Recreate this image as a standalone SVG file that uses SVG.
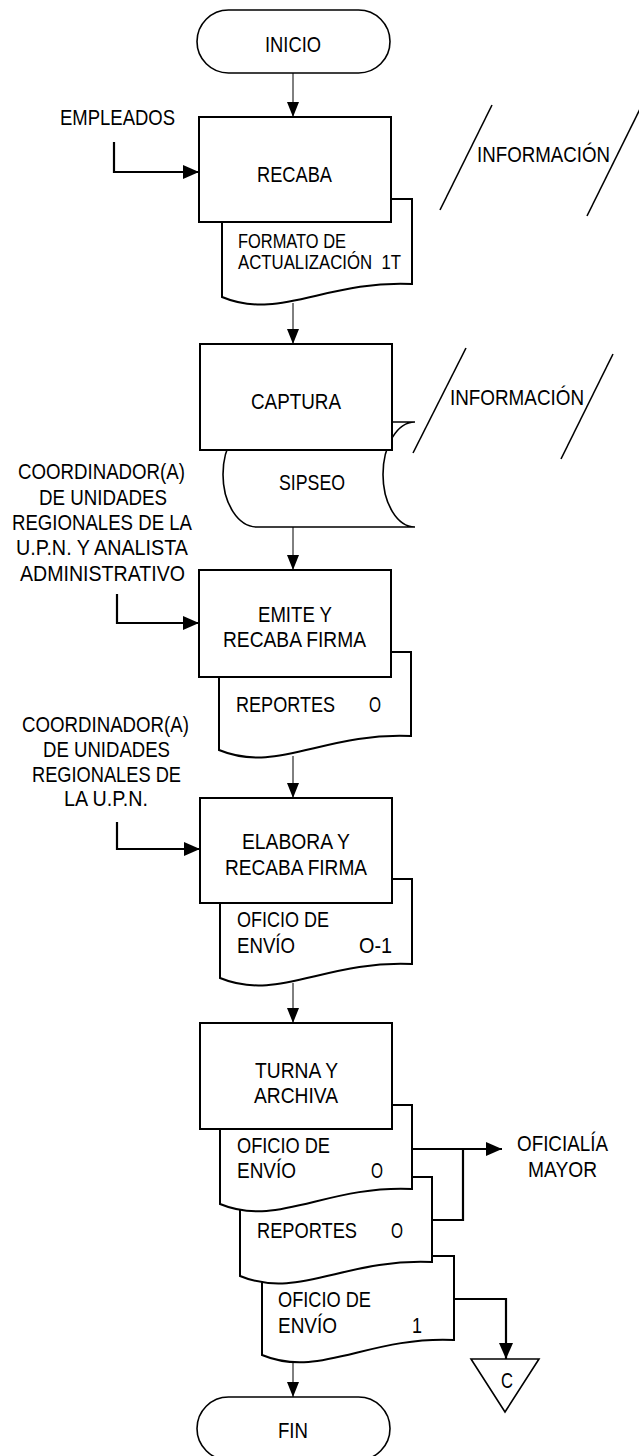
<svg xmlns="http://www.w3.org/2000/svg" width="639" height="1456" viewBox="0 0 639 1456">
<defs>
<marker id="ah" markerUnits="userSpaceOnUse" markerWidth="15" markerHeight="12" refX="15" refY="6" orient="auto"><path d="M0,0 L15,6 L0,12 Z" fill="#000"/></marker>
<marker id="ahb" markerUnits="userSpaceOnUse" markerWidth="16" markerHeight="14" refX="16" refY="7" orient="auto"><path d="M0,0 L16,7 L0,14 Z" fill="#000"/></marker>
<style>
text{font-family:"Liberation Sans",Arial,sans-serif;font-size:22px;fill:#000}
.sm{font-size:19.5px}
.pre{white-space:pre}
.term{fill:#fff;stroke:#000;stroke-width:1.6}
.box{fill:#fff;stroke:#000;stroke-width:2}
.doc{fill:#fff;stroke:#000;stroke-width:2}
.sto{fill:#fff;stroke:#000;stroke-width:1.6}
.io{fill:none;stroke:#000;stroke-width:1.6}
.flow{fill:none;stroke:#000;stroke-width:1;marker-end:url(#ah)}
.side{fill:none;stroke:#000;stroke-width:2.2;marker-end:url(#ahb)}
.line{fill:none;stroke:#000;stroke-width:2.2}
</style>
</defs>

<g id="connectors">
<path class="flow" d="M293,73 V117"/>
<path class="flow" d="M293,303 V344"/>
<path class="flow" d="M293,527 V570"/>
<path class="flow" d="M293,756 V798"/>
<path class="flow" d="M293,983 V1023"/>
<path class="flow" d="M293,1359 V1397"/>
<path class="side" d="M114,142 V172 H199"/>
<path class="side" d="M117,594 V623 H199"/>
<path class="side" d="M117,822 V849 H200"/>
<path class="side" d="M412,1149 H502"/>
<path class="line" d="M432,1220 H463 V1149"/>
<path class="side" d="M454,1299 H506 V1359"/>
</g>

<g id="inicio">
<rect class="term" x="197" y="10" width="193" height="63" rx="31.5"/>
<text x="265" y="52" textLength="56" lengthAdjust="spacingAndGlyphs">INICIO</text>
</g>

<g id="empleados">
<text x="60" y="125" textLength="115" lengthAdjust="spacingAndGlyphs">EMPLEADOS</text>
</g>

<g id="doc-formato">
<path class="doc" d="M222,199 H412 V284 C326.5,280 279,321 222,297 Z"/>
<text class="sm" x="238" y="248" textLength="108" lengthAdjust="spacingAndGlyphs">FORMATO DE</text>
<text class="sm pre" x="238" y="269" textLength="163" lengthAdjust="spacingAndGlyphs" xml:space="preserve">ACTUALIZACIÓN  1T</text>
</g>

<g id="recaba">
<rect class="box" x="199" y="117" width="192" height="105"/>
<text x="257" y="182" textLength="75" lengthAdjust="spacingAndGlyphs">RECABA</text>
</g>

<g id="informacion-1">
<line class="io" x1="440" y1="210" x2="492" y2="105"/>
<line class="io" x1="587" y1="216" x2="643" y2="103"/>
<text x="477" y="162" textLength="133" lengthAdjust="spacingAndGlyphs">INFORMACIÓN</text>
</g>

<g id="sipseo">
<path class="sto" d="M257,422 H415 A32,52.5 0 0 0 415,527 H257 A34,52.5 0 0 1 257,422 Z"/>
<text x="279" y="490" textLength="66" lengthAdjust="spacingAndGlyphs">SIPSEO</text>
</g>

<g id="captura">
<rect class="box" x="200" y="344" width="192" height="106"/>
<text x="251" y="409" textLength="90" lengthAdjust="spacingAndGlyphs">CAPTURA</text>
</g>

<g id="informacion-2">
<line class="io" x1="413" y1="453" x2="466" y2="348"/>
<line class="io" x1="561" y1="459" x2="613" y2="354"/>
<text x="450" y="405" textLength="134" lengthAdjust="spacingAndGlyphs">INFORMACIÓN</text>
</g>

<g id="coordinador-1">
<text x="18" y="479" textLength="167" lengthAdjust="spacingAndGlyphs">COORDINADOR(A)</text>
<text x="39" y="505" textLength="128" lengthAdjust="spacingAndGlyphs">DE UNIDADES</text>
<text x="12" y="530" textLength="180" lengthAdjust="spacingAndGlyphs">REGIONALES DE LA</text>
<text x="16" y="555" textLength="172" lengthAdjust="spacingAndGlyphs">U.P.N. Y ANALISTA</text>
<text x="20" y="581" textLength="165" lengthAdjust="spacingAndGlyphs">ADMINISTRATIVO</text>
</g>

<g id="doc-reportes-1">
<path class="doc" d="M219,652 H411 V736 C324.6,732 276.6,774 219,750 Z"/>
<text y="712"><tspan x="236" textLength="99" lengthAdjust="spacingAndGlyphs">REPORTES</tspan><tspan x="369" textLength="12" lengthAdjust="spacingAndGlyphs">O</tspan></text>
</g>

<g id="emite">
<rect class="box" x="199" y="570" width="192" height="107"/>
<text x="258" y="622" textLength="74" lengthAdjust="spacingAndGlyphs">EMITE Y</text>
<text x="223" y="647" textLength="143" lengthAdjust="spacingAndGlyphs">RECABA FIRMA</text>
</g>

<g id="coordinador-2">
<text x="22" y="732" textLength="167" lengthAdjust="spacingAndGlyphs">COORDINADOR(A)</text>
<text x="43" y="757" textLength="127" lengthAdjust="spacingAndGlyphs">DE UNIDADES</text>
<text x="32" y="782" textLength="149" lengthAdjust="spacingAndGlyphs">REGIONALES DE</text>
<text x="64" y="806" textLength="84" lengthAdjust="spacingAndGlyphs">LA U.P.N.</text>
</g>

<g id="doc-oficio-1">
<path class="doc" d="M220,879 H412 V964 C325.6,960 277.6,1002 220,978 Z"/>
<text x="237" y="927" textLength="92" lengthAdjust="spacingAndGlyphs">OFICIO DE</text>
<text y="953"><tspan x="237" textLength="58" lengthAdjust="spacingAndGlyphs">ENVÍO</tspan><tspan x="359" textLength="33" lengthAdjust="spacingAndGlyphs">O-1</tspan></text>
</g>

<g id="elabora">
<rect class="box" x="200" y="798" width="192" height="105"/>
<text x="242" y="849" textLength="108" lengthAdjust="spacingAndGlyphs">ELABORA Y</text>
<text x="225" y="875" textLength="142" lengthAdjust="spacingAndGlyphs">RECABA FIRMA</text>
</g>

<g id="doc-oficio-c">
<path class="doc" d="M262,1256 H454 V1340 C367.6,1336 319.6,1379 262,1355 Z"/>
<text x="278" y="1307" textLength="93" lengthAdjust="spacingAndGlyphs">OFICIO DE</text>
<text y="1333"><tspan x="278" textLength="59" lengthAdjust="spacingAndGlyphs">ENVÍO</tspan><tspan x="412" textLength="10" lengthAdjust="spacingAndGlyphs">1</tspan></text>
</g>

<g id="doc-reportes-b">
<path class="doc" d="M240,1177 H432 V1262 C345.6,1258 297.6,1300 240,1276 Z"/>
<text y="1238"><tspan x="257" textLength="100" lengthAdjust="spacingAndGlyphs">REPORTES</tspan><tspan x="391" textLength="12" lengthAdjust="spacingAndGlyphs">O</tspan></text>
</g>

<g id="doc-oficio-a">
<path class="doc" d="M220,1105 H412 V1189 C325.6,1185 277.6,1228 220,1204 Z"/>
<text x="237" y="1153" textLength="93" lengthAdjust="spacingAndGlyphs">OFICIO DE</text>
<text y="1178"><tspan x="237" textLength="59" lengthAdjust="spacingAndGlyphs">ENVÍO</tspan><tspan x="371" textLength="12" lengthAdjust="spacingAndGlyphs">O</tspan></text>
</g>

<g id="turna">
<rect class="box" x="200" y="1023" width="192" height="106"/>
<text x="255" y="1078" textLength="83" lengthAdjust="spacingAndGlyphs">TURNA Y</text>
<text x="254" y="1103" textLength="84" lengthAdjust="spacingAndGlyphs">ARCHIVA</text>
</g>

<g id="oficialia">
<text x="517" y="1151" textLength="91" lengthAdjust="spacingAndGlyphs">OFICIALÍA</text>
<text x="528" y="1177" textLength="69" lengthAdjust="spacingAndGlyphs">MAYOR</text>
</g>

<g id="conector-c">
<polygon class="term" points="471,1359 539,1359 505,1412"/>
<text x="501" y="1388" textLength="12" lengthAdjust="spacingAndGlyphs">C</text>
</g>

<g id="fin">
<rect class="term" x="197" y="1397" width="193" height="63" rx="31.5"/>
<text x="278" y="1438" textLength="30" lengthAdjust="spacingAndGlyphs">FIN</text>
</g>
</svg>
